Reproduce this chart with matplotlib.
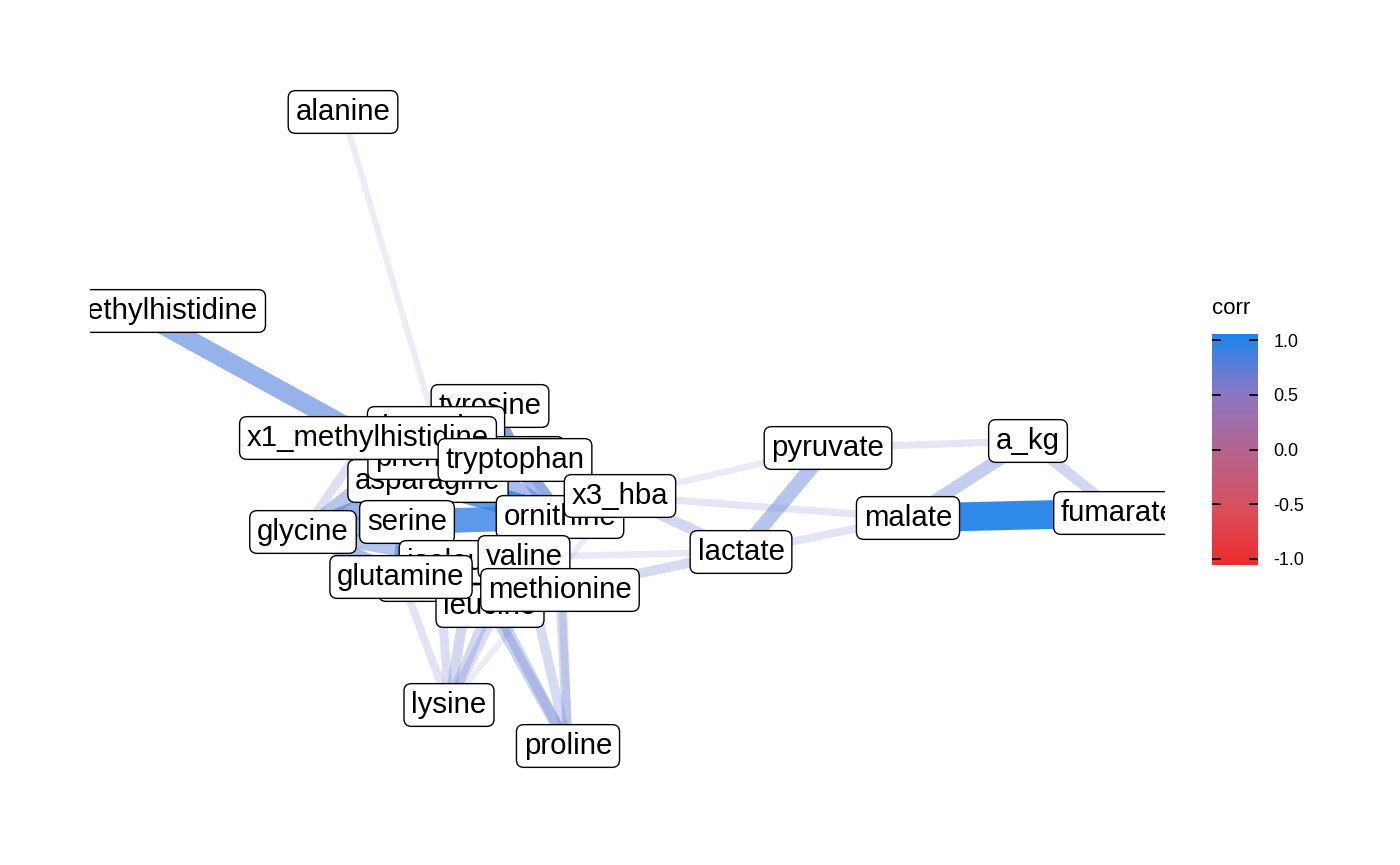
import numpy as np
import matplotlib as mpl
import matplotlib.pyplot as plt
from matplotlib.colors import LinearSegmentedColormap

# node layout (label centres, layout units)
nodes = ['alanine', 'x3_methylhistidine', 'histidine', 'tyrosine', 'threonine', 'asparagine',
         'phenylalanine', 'x1_methylhistidine', 'tryptophan', 'ornithine', 'x3_hba', 'serine',
         'glycine', 'isoleucine', 'valine', 'leucine', 'glutamine', 'methionine', 'lysine',
         'proline', 'pyruvate', 'a_kg', 'lactate', 'malate', 'fumarate']
node_x = [343, 137, 440, 490, 436, 428, 466, 368, 515, 560, 620, 407, 303, 472, 524, 490, 401, 560,
          449, 568, 828, 1028, 741, 908, 1119]
node_y = [112, 311, 580, 406, 428, 481, 458, 438, 460, 517, 496, 522, 532, 562, 557, 606, 577, 590,
          705, 746, 448, 441, 552, 518, 513]

# correlations shown as edges (only |r| above the cut-off)
edge_from = ['alanine', 'x3_methylhistidine', 'x1_methylhistidine', 'x1_methylhistidine', 'tyrosine',
             'tyrosine', 'tyrosine', 'tyrosine', 'tyrosine', 'threonine', 'threonine', 'threonine',
             'phenylalanine', 'phenylalanine', 'tryptophan', 'tryptophan', 'asparagine', 'asparagine',
             'asparagine', 'serine', 'serine', 'serine', 'serine', 'glycine', 'glycine', 'ornithine',
             'ornithine', 'isoleucine', 'isoleucine', 'valine', 'isoleucine', 'valine', 'leucine',
             'histidine', 'lysine', 'lysine', 'lysine', 'lysine', 'lysine', 'lysine', 'proline',
             'proline', 'proline', 'proline', 'proline', 'x3_hba', 'x3_hba', 'x3_hba', 'lactate',
             'lactate', 'lactate', 'lactate', 'pyruvate', 'a_kg', 'a_kg', 'malate']
edge_to = ['threonine', 'x1_methylhistidine', 'threonine', 'glycine', 'threonine',
           'phenylalanine', 'tryptophan', 'asparagine', 'ornithine', 'serine', 'asparagine', 'glycine',
           'tryptophan', 'ornithine', 'ornithine', 'x3_hba', 'serine', 'ornithine',
           'glycine', 'ornithine', 'glycine', 'glutamine', 'isoleucine', 'glutamine', 'isoleucine', 'x3_hba',
           'valine', 'valine', 'leucine', 'leucine', 'methionine', 'methionine', 'methionine',
           'glutamine', 'histidine', 'glutamine', 'leucine', 'isoleucine', 'valine', 'x3_hba', 'leucine',
           'isoleucine', 'valine', 'methionine', 'ornithine', 'pyruvate', 'malate', 'lactate', 'valine',
           'methionine', 'pyruvate', 'malate', 'a_kg', 'malate', 'fumarate', 'fumarate']
edge_r = [0.57, 0.78, 0.71, 0.615, 0.84,
          0.87, 0.77, 0.80, 0.645, 0.84, 0.80, 0.71,
          0.84, 0.74, 0.74, 0.60, 0.90, 0.88,
          0.78, 0.88, 0.80, 0.77, 0.74, 0.74, 0.71, 0.68,
          0.71, 0.93, 0.93, 0.90, 0.74, 0.74, 0.71,
          0.66, 0.62, 0.60, 0.64, 0.64, 0.62, 0.57, 0.66,
          0.65, 0.63, 0.63, 0.61, 0.575, 0.59, 0.645, 0.58,
          0.63, 0.71, 0.60, 0.59, 0.68, 0.645, 0.95]

# drawing order of labels (bottom -> top)
label_order = ['histidine', 'tyrosine', 'threonine', 'asparagine', 'phenylalanine', 'x1_methylhistidine',
               'tryptophan', 'ornithine', 'x3_hba', 'serine', 'glycine', 'isoleucine', 'valine',
               'leucine', 'glutamine', 'methionine', 'alanine', 'x3_methylhistidine', 'lysine',
               'proline', 'pyruvate', 'a_kg', 'lactate', 'malate', 'fumarate']

cbar_ticks = [-1.0, -0.5, 0.0, 0.5, 1.0]

cmap = LinearSegmentedColormap.from_list(
    'corr', [(0.0, '#EE2C2C'), (0.25, '#D9505E'), (0.5, '#B4648F'), (0.75, '#8A78C6'), (1.0, '#1C86EE')])

plt.rcParams['font.family'] = ['Liberation Sans', 'DejaVu Sans']

fig = plt.figure(figsize=(14, 8.65), dpi=100)
ax = fig.add_axes([90 / 1400, 0, (1165 - 90) / 1400, 1])
ax.set_xlim(90, 1165)
ax.set_ylim(865, 0)
ax.axis('off')

pos = {n: (x, y) for n, x, y in zip(nodes, node_x, node_y)}

# edges: weak ones first so strong ones sit on top
r_min, r_max = 0.55, 0.97
order = np.argsort(np.abs(edge_r))
for i in order:
    r = edge_r[i]
    t = min((abs(r) - r_min) / (r_max - r_min), 1.0)
    alpha = 0.1 + 0.9 * t
    width_px = 4.8 + 60 * (abs(r) - r_min)
    col = cmap((r + 1) / 2)
    x0, y0 = pos[edge_from[i]]
    x1, y1 = pos[edge_to[i]]
    ax.plot([x0, x1], [y0, y1], color=col, alpha=alpha, lw=width_px * 72 / 100,
            solid_capstyle='butt', zorder=1)

# labels
for k, n in enumerate(label_order):
    x, y = pos[n]
    ax.text(x, y, n, ha='center', va='center', fontsize=21.2, color='black', zorder=10 + k,
            clip_on=True,
            bbox=dict(boxstyle='round,pad=0.25,rounding_size=0.25', fc='white', ec='black', lw=1.0))

# colour bar legend
cax = fig.add_axes([1212 / 1400, (865 - 565) / 865, 46 / 1400, 231 / 865])
grad = np.linspace(-1, 1, 256).reshape(-1, 1)
cax.imshow(grad, extent=[0, 1, -1.055, 1.055], aspect='auto', origin='lower', cmap=cmap, vmin=-1, vmax=1)
cax.set_xlim(0, 1)
cax.set_ylim(-1.055, 1.055)
cax.set_xticks([])
cax.set_yticks(cbar_ticks)
cax.set_yticklabels(['%.1f' % v for v in cbar_ticks])
cax.yaxis.tick_right()
cax.tick_params(axis='y', direction='in', length=6.5, width=1.3, left=True, right=True,
                labelleft=False, labelright=True, labelsize=13, pad=11, colors='black')
for s in cax.spines.values():
    s.set_visible(False)
fig.text(1212 / 1400, (865 - 308) / 865, 'corr', ha='left', va='center', fontsize=16)

fig.savefig('out.png', dpi=100)
